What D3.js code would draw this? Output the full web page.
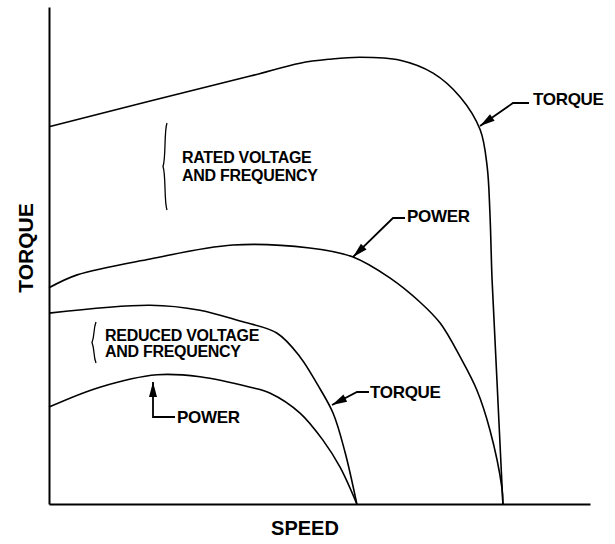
<!DOCTYPE html>
<html>
<head>
<meta charset="utf-8">
<script src="https://cdn.jsdelivr.net/npm/d3@7"></script>
<style>
  body { margin: 0; background: #fff; }
  svg { display: block; }
  text { font-family: "Liberation Sans", Arial, sans-serif; font-weight: bold; fill: #000; }
</style>
</head>
<body>
<div id="svgContainer"></div>
<script>
// speed (0-100) vs torque (0-100)
const ratedTorqueSpeed = [0, 18.7, 37.2, 46.4, 51.9, 57.5, 64.9, 71.0, 76.0, 79.7, 81.0, 81.5, 81.9, 82.8, 83.9];
const ratedTorque      = [75.9, 81.1, 86.1, 88.7, 89.5, 89.9, 89.3, 86.7, 81.9, 75.3, 67.8, 58.6, 45.1, 24.9, 0];

const ratedPowerSpeed = [0, 5.2, 18.7, 34.0, 48.2, 56.2, 63.0, 68.6, 72.3, 76.0, 79.1, 81.5, 83.7, 83.9];
const ratedPower      = [43.5, 46.1, 49.3, 52.1, 51.5, 49.7, 45.5, 40.6, 36.4, 29.6, 22.9, 14.9, 3.4, 0];

const reducedTorqueSpeed = [0, 18.7, 27.9, 35.3, 42.1, 46.4, 49.7, 52.5, 54.7, 56.9];
const reducedTorque      = [38.4, 40.0, 39.0, 36.8, 34.4, 29.6, 23.9, 18.3, 10.5, 0];

const reducedPowerSpeed = [0, 9.4, 20.0, 27.9, 37.2, 40.9, 46.4, 50.6, 53.8, 56.9];
const reducedPower      = [19.5, 23.5, 26.0, 25.6, 23.5, 22.3, 18.3, 12.9, 7.4, 0];

const width = 615;
const height = 544;

const svg = d3.select("#svgContainer").append("svg")
  .attr("width", width)
  .attr("height", height);

const x = d3.scaleLinear().domain([0, 100]).range([49, 590]);
const y = d3.scaleLinear().domain([0, 100]).range([504, 7]);

// Axes, no ticks
svg.append("g")
  .attr("transform", `translate(0, ${y(0)})`)
  .call(d3.axisBottom(x).tickValues([]).tickSizeOuter(0))
  .select(".domain").attr("stroke-width", 2);
svg.append("g")
  .attr("transform", `translate(${x(0)}, 0)`)
  .call(d3.axisLeft(y).tickValues([]).tickSizeOuter(0))
  .select(".domain").attr("stroke-width", 2);

const line = d3.line()
  .x(d => x(d[0]))
  .y(d => y(d[1]))
  .curve(d3.curveCatmullRom.alpha(0.5));

const curves = [
  [ratedTorqueSpeed, ratedTorque],
  [ratedPowerSpeed, ratedPower],
  [reducedTorqueSpeed, reducedTorque],
  [reducedPowerSpeed, reducedPower]
];
curves.forEach(c => {
  svg.append("path")
    .datum(d3.zip(c[0], c[1]))
    .attr("d", line)
    .attr("fill", "none")
    .attr("stroke", "#000")
    .attr("stroke-width", 1.6);
});

// Leader line ending in a filled arrow head
function leader(points) {
  svg.append("path")
    .attr("d", d3.line()(points))
    .attr("fill", "none")
    .attr("stroke", "#000")
    .attr("stroke-width", 1.8);
  const tip = points[points.length - 1];
  const prev = points[points.length - 2];
  const ang = Math.atan2(tip[1] - prev[1], tip[0] - prev[0]);
  const len = 15, half = 4;
  const bx = tip[0] - len * Math.cos(ang), by = tip[1] - len * Math.sin(ang);
  const px = -Math.sin(ang) * half, py = Math.cos(ang) * half;
  svg.append("path")
    .attr("d", `M${tip[0]},${tip[1]}L${bx + px},${by + py}L${bx - px},${by - py}Z`)
    .attr("fill", "#000");
}

function label(tx, ty, str, size) {
  svg.append("text")
    .attr("x", tx)
    .attr("y", ty)
    .attr("font-size", `${size}px`)
    .attr("letter-spacing", "-0.3px")
    .text(str);
}

// Curve labels
label(533, 105, "TORQUE", 17);
leader([[529, 103], [513, 103], [480, 126]]);
label(407, 222, "POWER", 17);
leader([[405, 218], [393, 218], [353, 257]]);
label(370, 398, "TORQUE", 17);
leader([[369, 392], [357, 392], [332, 405]]);
label(177, 423, "POWER", 17);
leader([[175, 417], [153, 417], [153, 382]]);

// Braces
function brace(bx, top, bot) {
  const mid = (top + bot) / 2;
  svg.append("path")
    .attr("d", `M${bx + 2},${top} C${bx - 1},${top + 8} ${bx + 1},${mid - 8} ${bx - 2},${mid}` +
               ` C${bx + 1},${mid + 8} ${bx - 1},${bot - 8} ${bx + 2},${bot}`)
    .attr("fill", "none")
    .attr("stroke", "#000")
    .attr("stroke-width", 1.3);
}
brace(165, 123, 210);
brace(94, 322, 363);

label(182, 163, "RATED VOLTAGE", 16);
label(182, 181, "AND FREQUENCY", 16);
label(105, 341, "REDUCED VOLTAGE", 16);
label(105, 357, "AND FREQUENCY", 16);

// Axis titles
svg.append("text")
  .attr("x", 305)
  .attr("y", 535)
  .attr("text-anchor", "middle")
  .attr("font-size", "20px")
  .text("SPEED");
svg.append("text")
  .attr("transform", "translate(33, 248) rotate(-90)")
  .attr("text-anchor", "middle")
  .attr("font-size", "21px")
  .text("TORQUE");
</script>
</body>
</html>
